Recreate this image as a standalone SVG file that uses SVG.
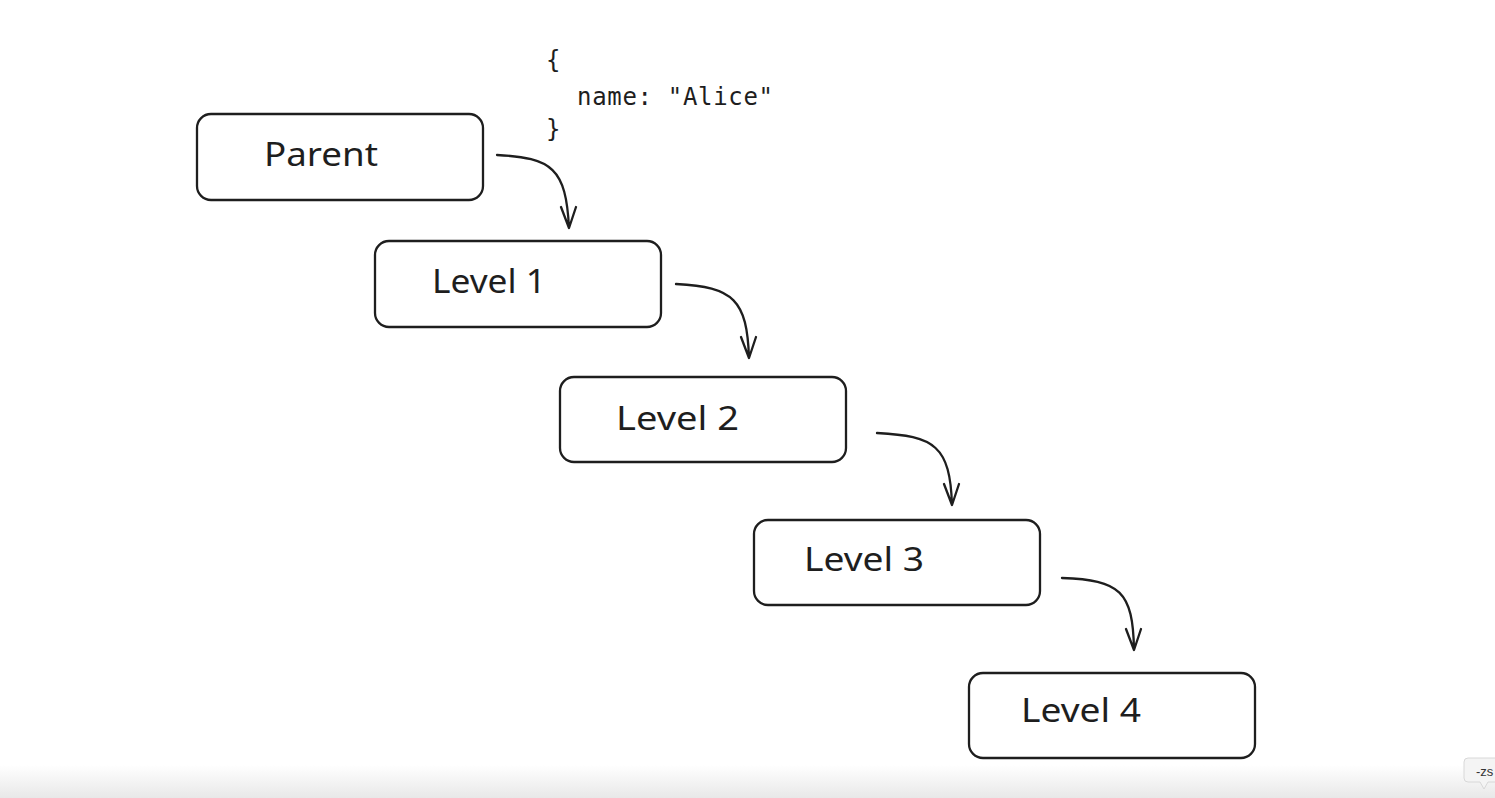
<svg xmlns="http://www.w3.org/2000/svg" width="1495" height="798" viewBox="0 0 1495 798">
<defs>
<style>
.box{fill:#fff;stroke:#1e1e1e;stroke-width:2.3;}
.lbl{font-family:"Noto Sans","Liberation Sans",sans-serif;font-size:32px;fill:#1e1e1e;}
.code{font-family:"DejaVu Sans Mono","Liberation Mono",monospace;font-size:24px;fill:#1e1e1e;}
.edge{fill:none;stroke:#1e1e1e;stroke-width:2.3;stroke-linecap:round;stroke-linejoin:round;}
</style>
<linearGradient id="bar" x1="0" y1="0" x2="0" y2="1">
<stop offset="0" stop-color="#ffffff"/>
<stop offset="1" stop-color="#e8e8e8"/>
</linearGradient>
</defs>
<rect width="1495" height="798" fill="#fff"/>
<rect x="0" y="765" width="1495" height="33" fill="url(#bar)"/>
<g id="code">
<text class="code" x="546" y="68">{</text>
<text class="code" x="577" y="105" textLength="196">name: "Alice"</text>
<text class="code" x="546" y="137">}</text>
</g>
<g id="parent">
<rect class="box" x="197" y="114" width="286" height="86" rx="14"/>
<text class="lbl" x="264" y="166" textLength="114" lengthAdjust="spacingAndGlyphs">Parent</text>
</g>
<g id="level1">
<rect class="box" x="375" y="241" width="286" height="86" rx="14"/>
<text class="lbl" x="432" y="293" textLength="114" lengthAdjust="spacingAndGlyphs">Level 1</text>
</g>
<g id="level2">
<rect class="box" x="560" y="377" width="286" height="85" rx="14"/>
<text class="lbl" x="616" y="430" textLength="123" lengthAdjust="spacingAndGlyphs">Level 2</text>
</g>
<g id="level3">
<rect class="box" x="754" y="520" width="286" height="85" rx="14"/>
<text class="lbl" x="804" y="571" textLength="120" lengthAdjust="spacingAndGlyphs">Level 3</text>
</g>
<g id="level4">
<rect class="box" x="969" y="673" width="286" height="85" rx="14"/>
<text class="lbl" x="1021" y="722" textLength="120" lengthAdjust="spacingAndGlyphs">Level 4</text>
</g>
<g id="connectors">
<path class="edge" d="M497,155 C552,158 566,168 569,228 M561,207 L569,228 L576,207"/>
<path class="edge" d="M676,284 C734,287 747,300 749,358 M741,337 L749,358 L756,337"/>
<path class="edge" d="M877,433 C935,436 950,446 952,505 M944,484 L952,505 L959,484"/>
<path class="edge" d="M1062,578 C1120,580 1133,591 1134,650 M1126,629 L1134,650 L1141,629"/>
</g>
<g id="tooltip">
<path d="M1468,758 H1500 V782 H1488 L1484,789 L1480,782 H1468 a4,4 0 0 1 -4,-4 V762 a4,4 0 0 1 4,-4 Z" fill="#f4f4f4" stroke="#d8d8d8" stroke-width="1"/>
<text x="1476" y="776" font-family="Liberation Sans,sans-serif" font-size="13" fill="#333">-zs</text>
</g>
</svg>
